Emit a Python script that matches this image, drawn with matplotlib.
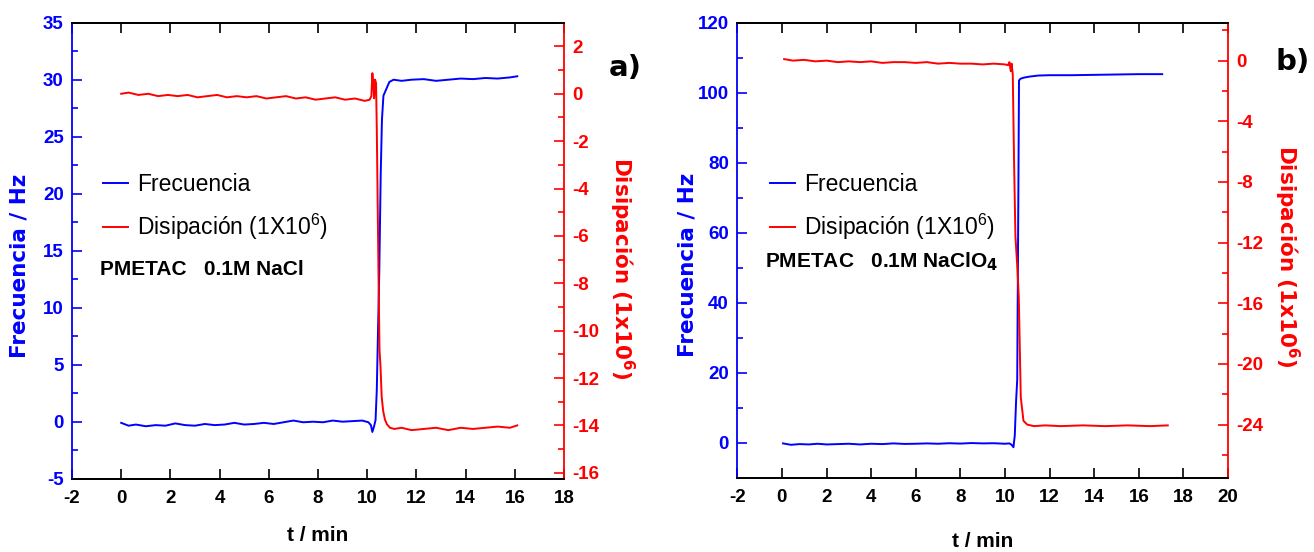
import matplotlib
matplotlib.use("Agg")
import matplotlib.pyplot as plt
from matplotlib.ticker import MultipleLocator
import matplotlib.font_manager as fm

NARROW = ['Liberation Sans Narrow', 'Liberation Sans', 'DejaVu Sans']
WIDE = ['DejaVu Sans']
BLUE = '#0000FF'
RED = '#FF0000'

plt.rcParams['font.family'] = NARROW
plt.rcParams['font.weight'] = 'bold'
plt.rcParams['axes.unicode_minus'] = False
plt.rcParams['mathtext.fontset'] = 'custom'
plt.rcParams['mathtext.rm'] = 'Liberation Sans:regular'
plt.rcParams['mathtext.it'] = 'Liberation Sans:italic:regular'
plt.rcParams['mathtext.bf'] = 'DejaVu Sans:bold'

# ---------------- data: panel a (0.1M NaCl) ----------------
t_a_freq = [0.0, 0.3, 0.6, 1.0, 1.4, 1.8, 2.2, 2.6, 3.0, 3.4, 3.8, 4.2, 4.6, 5.0, 5.4, 5.8,
            6.2, 6.6, 7.0, 7.4, 7.8, 8.2, 8.6, 9.0, 9.4, 9.8, 10.05, 10.15, 10.21, 10.28,
            10.34, 10.39, 10.44, 10.49, 10.55, 10.6, 10.66, 10.72, 10.8, 10.9, 11.07, 11.4,
            11.8, 12.3, 12.8, 13.3, 13.8, 14.3, 14.8, 15.3, 15.8, 16.1]
freq_a = [-0.1, -0.35, -0.25, -0.4, -0.3, -0.35, -0.15, -0.3, -0.35, -0.2, -0.3, -0.25,
          -0.1, -0.25, -0.2, -0.1, -0.2, -0.05, 0.1, -0.05, 0.0, -0.05, 0.1, 0.0, 0.05, 0.1,
          -0.05, -0.3, -0.9, -0.4, 0.15, 2.8, 8.0, 13.0, 21.8, 26.5, 28.6, 28.9, 29.3, 29.8,
          30.0, 29.9, 30.0, 30.05, 29.9, 30.0, 30.1, 30.05, 30.15, 30.1, 30.2, 30.3]

t_a_diss = [0.0, 0.3, 0.7, 1.1, 1.5, 1.9, 2.3, 2.7, 3.1, 3.5, 3.9, 4.3, 4.7, 5.1, 5.5, 5.9,
            6.3, 6.7, 7.1, 7.5, 7.9, 8.3, 8.7, 9.1, 9.5, 9.9, 10.1, 10.17, 10.21, 10.25,
            10.28, 10.32, 10.36, 10.39, 10.43, 10.47, 10.5, 10.54, 10.59, 10.65, 10.72, 10.8,
            10.93, 11.1, 11.4, 11.8, 12.3, 12.8, 13.3, 13.8, 14.3, 14.8, 15.3, 15.8, 16.1]
diss_a = [0.0, 0.05, -0.05, 0.0, -0.1, -0.05, -0.1, -0.05, -0.15, -0.1, -0.05, -0.15, -0.1,
          -0.15, -0.1, -0.2, -0.15, -0.1, -0.2, -0.15, -0.25, -0.2, -0.15, -0.25, -0.2, -0.3,
          -0.25, -0.1, 0.87, 0.4, -0.19, 0.6, 0.45, -1.5, -5.0, -8.5, -10.8, -11.5, -12.8,
          -13.4, -13.75, -13.95, -14.1, -14.15, -14.1, -14.2, -14.15, -14.1, -14.2, -14.1,
          -14.15, -14.1, -14.05, -14.1, -14.0]

# ---------------- data: panel b (0.1M NaClO4) ----------------
t_b_freq = [0.05, 0.4, 0.8, 1.2, 1.6, 2.0, 2.5, 3.0, 3.5, 4.0, 4.5, 5.0, 5.5, 6.0, 6.5, 7.0,
            7.5, 8.0, 8.5, 9.0, 9.5, 10.0, 10.2, 10.3, 10.38, 10.44, 10.5, 10.55, 10.6,
            10.63, 10.7, 10.85, 11.1, 11.5, 12.0, 13.0, 14.0, 15.0, 16.0, 17.05]
freq_b = [-0.2, -0.6, -0.4, -0.5, -0.3, -0.5, -0.4, -0.3, -0.5, -0.3, -0.4, -0.2, -0.35,
          -0.3, -0.2, -0.3, -0.15, -0.25, -0.1, -0.2, -0.15, -0.3, -0.2, -0.6, -1.3, 2.0,
          12.0, 18.0, 70.0, 103.5, 104.0, 104.3, 104.6, 104.9, 105.0, 105.0, 105.1, 105.2,
          105.3, 105.3]

t_b_diss = [0.1, 0.5, 1.0, 1.5, 2.0, 2.5, 3.0, 3.5, 4.0, 4.5, 5.0, 5.5, 6.0, 6.5, 7.0, 7.5,
            8.0, 8.5, 9.0, 9.5, 10.0, 10.14, 10.2, 10.26, 10.3, 10.35, 10.41, 10.47, 10.55,
            10.62, 10.71, 10.83, 11.0, 11.3, 11.8, 12.5, 13.5, 14.5, 15.5, 16.5, 17.3]
diss_b = [0.1, 0.0, 0.05, -0.05, 0.0, -0.1, -0.05, -0.1, -0.05, -0.15, -0.1, -0.1, -0.15,
          -0.1, -0.2, -0.15, -0.2, -0.2, -0.25, -0.2, -0.25, -0.3, -0.1, -0.7, -0.2, -0.9,
          -6.8, -11.6, -13.5, -15.6, -22.2, -23.75, -24.0, -24.1, -24.05, -24.1, -24.05,
          -24.1, -24.05, -24.1, -24.05]

xticks_a = list(range(-2, 19, 2))
xticks_b = list(range(-2, 21, 2))

legend_labels = ['Frecuencia', 'Disipación (1X10$^{\\mathrm{6}}$)']
ylabel_left = 'Frecuencia / Hz'
ylabel_right = 'Disipación (1x10$^{\\mathbf{6}}$)'
xlabel = 't / min'

W, H = 1314, 552
fig = plt.figure(figsize=(W / 100, H / 100), dpi=100)


def make_panel(rect, t_f, f, t_d, d, xlim, xticks, ylim_l, maj_l, min_l, ylim_r, maj_r, min_r,
               note, panel_label, lbl_pos, leg_pos, note_pos, ylab_l_pos, ylab_r_pos, xlab_pad):
    ax = fig.add_axes(rect)
    ax2 = ax.twinx()
    ax.plot(t_f, f, color=BLUE, lw=1.4)
    ax2.plot(t_d, d, color=RED, lw=1.4)
    ax.set_xlim(*xlim)
    ax.set_xticks(xticks)
    ax.set_ylim(*ylim_l)
    ax.yaxis.set_major_locator(MultipleLocator(maj_l))
    ax.yaxis.set_minor_locator(MultipleLocator(min_l))
    ax2.set_ylim(*ylim_r)
    ax2.yaxis.set_major_locator(MultipleLocator(maj_r))
    ax2.yaxis.set_minor_locator(MultipleLocator(min_r))

    for a in (ax, ax2):
        for s in a.spines.values():
            s.set_linewidth(1.3)
    ax.spines['left'].set_color(BLUE)
    ax2.spines['left'].set_visible(False)
    ax2.spines['right'].set_color(RED)
    ax.spines['right'].set_visible(False)

    ax.tick_params(axis='x', direction='in', top=True, length=7, width=1.2, pad=8,
                   labelsize=13.5)
    ax.tick_params(axis='y', which='both', direction='in', colors=BLUE, width=1.2,
                   labelsize=13.5, pad=6)
    ax.tick_params(axis='y', which='major', length=7)
    ax.tick_params(axis='y', which='minor', length=4)
    ax2.tick_params(axis='y', which='both', direction='in', colors=RED, width=1.2,
                    labelsize=13.5, pad=6)
    ax2.tick_params(axis='y', which='major', length=7)
    ax2.tick_params(axis='y', which='minor', length=4)

    ax.set_xlabel(xlabel, fontsize=15, fontweight='bold', labelpad=xlab_pad)
    ax.set_ylabel(ylabel_left, fontsize=15.5, fontweight='bold', family=WIDE, color=BLUE,
                  va='center')
    ax.yaxis.set_label_coords(*ylab_l_pos)
    ax2.set_ylabel(ylabel_right, fontsize=15.5, fontweight='bold', family=WIDE, color=RED,
                   rotation=-90, va='center')
    ax2.yaxis.set_label_coords(*ylab_r_pos)

    ax2.text(lbl_pos[0], lbl_pos[1], panel_label, transform=ax.transAxes, fontsize=21,
             fontweight='bold', family=WIDE, ha='center', va='center')

    h1, = ax.get_lines()
    h2, = ax2.get_lines()
    ax2.legend([h1, h2], legend_labels, loc='upper left', bbox_to_anchor=leg_pos,
               frameon=False, borderpad=0, borderaxespad=0, handlelength=1.1,
               handletextpad=0.4, labelspacing=0.7,
               prop=fm.FontProperties(family=NARROW, size=16.5, weight='normal'))
    ax2.text(note_pos[0], note_pos[1], note, transform=ax.transAxes, fontsize=15,
             fontweight='bold', ha='left', va='baseline')
    return ax, ax2


assert len(t_a_freq) == len(freq_a) and len(t_a_diss) == len(diss_a)
assert len(t_b_freq) == len(freq_b) and len(t_b_diss) == len(diss_b)

make_panel([72 / W, 1 - 478.7 / H, 492 / W, 456 / H], t_a_freq, freq_a, t_a_diss, diss_a,
           (-2, 18), xticks_a, (-5, 35), 5, 2.5, (-16.25, 3), 2, 1,
           'PMETAC   0.1M NaCl', 'a)', (1.124, 0.90), (0.063, 0.67), (0.057, 0.447),
           (-0.106, 0.466), (1.118, 0.461), 14)

make_panel([737.3 / W, 1 - 477.7 / H, 490.7 / W, 455 / H], t_b_freq, freq_b, t_b_diss, diss_b,
           (-2, 20), xticks_b, (-10, 120), 20, 10, (-27.5, 2.5), 4, 2,
           'PMETAC   0.1M NaClO$_\\mathbf{4}$', 'b)', (1.1325, 0.914), (0.0666, 0.67),
           (0.0565, 0.461), (-0.1025, 0.467), (1.12, 0.487), 19)

fig.savefig('out.png', dpi=100)
